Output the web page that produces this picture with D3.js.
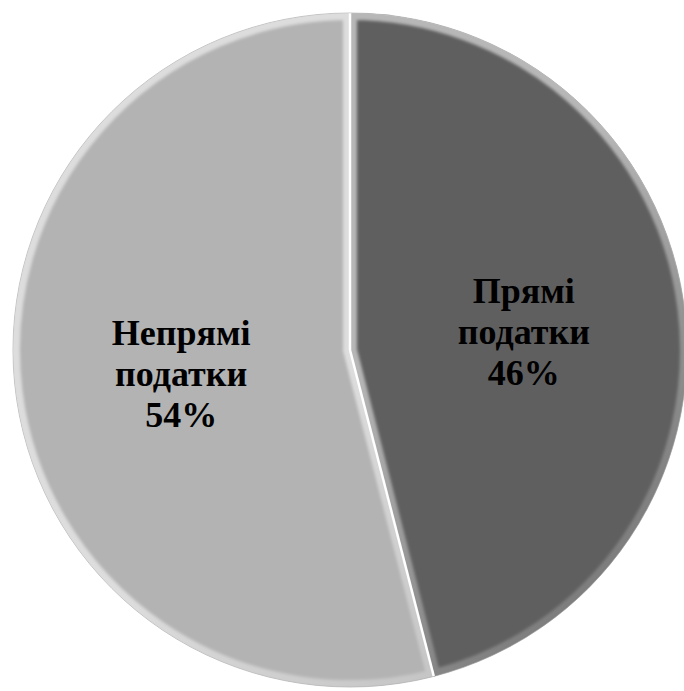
<!DOCTYPE html>
<html>
<head>
<meta charset="utf-8">
<script src="https://cdn.jsdelivr.net/npm/d3@7/dist/d3.min.js"></script>
<style>
  html, body { margin: 0; padding: 0; background: #ffffff; }
  svg { display: block; }
</style>
</head>
<body>
<svg id="chart" width="684" height="691"></svg>
<script>
// Tax structure: direct vs indirect taxes
const categories = ["Прямі податки", "Непрямі податки"];
const labelLines = [["Прямі", "податки"], ["Непрямі", "податки"]];
const shares = [46, 54];
const fills = ["#5f5f5f", "#b3b3b3"];

const width = 684, height = 691;
const cx = 350, cy = 350, radius = 337;

const svg = d3.select("#chart");
const defs = svg.append("defs");

// light-from-top-left bevel gradient, applied along the slice rims
const bevel = defs.append("linearGradient")
  .attr("id", "bevel")
  .attr("gradientUnits", "userSpaceOnUse")
  .attr("x1", cx - radius).attr("y1", cy - radius)
  .attr("x2", cx + radius).attr("y2", cy + radius);
bevel.append("stop").attr("offset", "0%").attr("stop-color", "#ffffff").attr("stop-opacity", 0.55);
bevel.append("stop").attr("offset", "40%").attr("stop-color", "#ffffff").attr("stop-opacity", 0.12);
bevel.append("stop").attr("offset", "60%").attr("stop-color", "#000000").attr("stop-opacity", 0.12);
bevel.append("stop").attr("offset", "100%").attr("stop-color", "#000000").attr("stop-opacity", 0.4);

defs.append("filter").attr("id", "soft")
  .append("feGaussianBlur").attr("stdDeviation", 1.5);

const pie = d3.pie().sort(null).value(d => d)(shares);
const arc = d3.arc().innerRadius(0).outerRadius(radius);

const g = svg.append("g").attr("transform", `translate(${cx},${cy})`);

pie.forEach((p, i) => {
  const clipId = "clip" + i;
  defs.append("clipPath").attr("id", clipId)
    .append("path")
    .attr("transform", `translate(${cx},${cy})`)
    .attr("d", arc(p));

  g.append("path")
    .attr("d", arc(p))
    .attr("fill", fills[i]);

  // inner rim shading
  svg.append("g")
    .attr("clip-path", `url(#${clipId})`)
    .append("path")
    .attr("transform", `translate(${cx},${cy})`)
    .attr("d", arc(p))
    .attr("fill", "none")
    .attr("stroke", "url(#bevel)")
    .attr("stroke-width", 14)
    .attr("stroke-linejoin", "round")
    .attr("filter", "url(#soft)");
});

// white radial separators between slices
g.selectAll("line.sep")
  .data(pie)
  .join("line")
  .attr("class", "sep")
  .attr("x1", 0).attr("y1", 0)
  .attr("x2", d => radius * Math.sin(d.startAngle))
  .attr("y2", d => -radius * Math.cos(d.startAngle))
  .attr("stroke", "#ffffff")
  .attr("stroke-width", 2.5);

// faint outline around the pie
g.append("circle")
  .attr("r", radius)
  .attr("fill", "none")
  .attr("stroke", "#8a8a8a")
  .attr("stroke-opacity", 0.5)
  .attr("stroke-width", 1);

// labels
const labelArc = d3.arc().innerRadius(radius * 0.52).outerRadius(radius * 0.52);
const labelOffsets = [[0, 4], [5, 2]];
pie.forEach((p, i) => {
  const [lx, ly] = labelArc.centroid(p);
  const text = g.append("text")
    .attr("font-family", "Liberation Serif")
    .attr("font-weight", "bold")
    .attr("font-size", 36)
    .attr("fill", "#000000")
    .attr("text-anchor", "middle");
  const lines = labelLines[i].concat([shares[i] + "%"]);
  lines.forEach((t, k) => {
    text.append("tspan")
      .attr("x", lx + labelOffsets[i][0])
      .attr("y", ly + labelOffsets[i][1] + (k - 1) * 41 + 12)
      .text(t);
  });
});
</script>
</body>
</html>
